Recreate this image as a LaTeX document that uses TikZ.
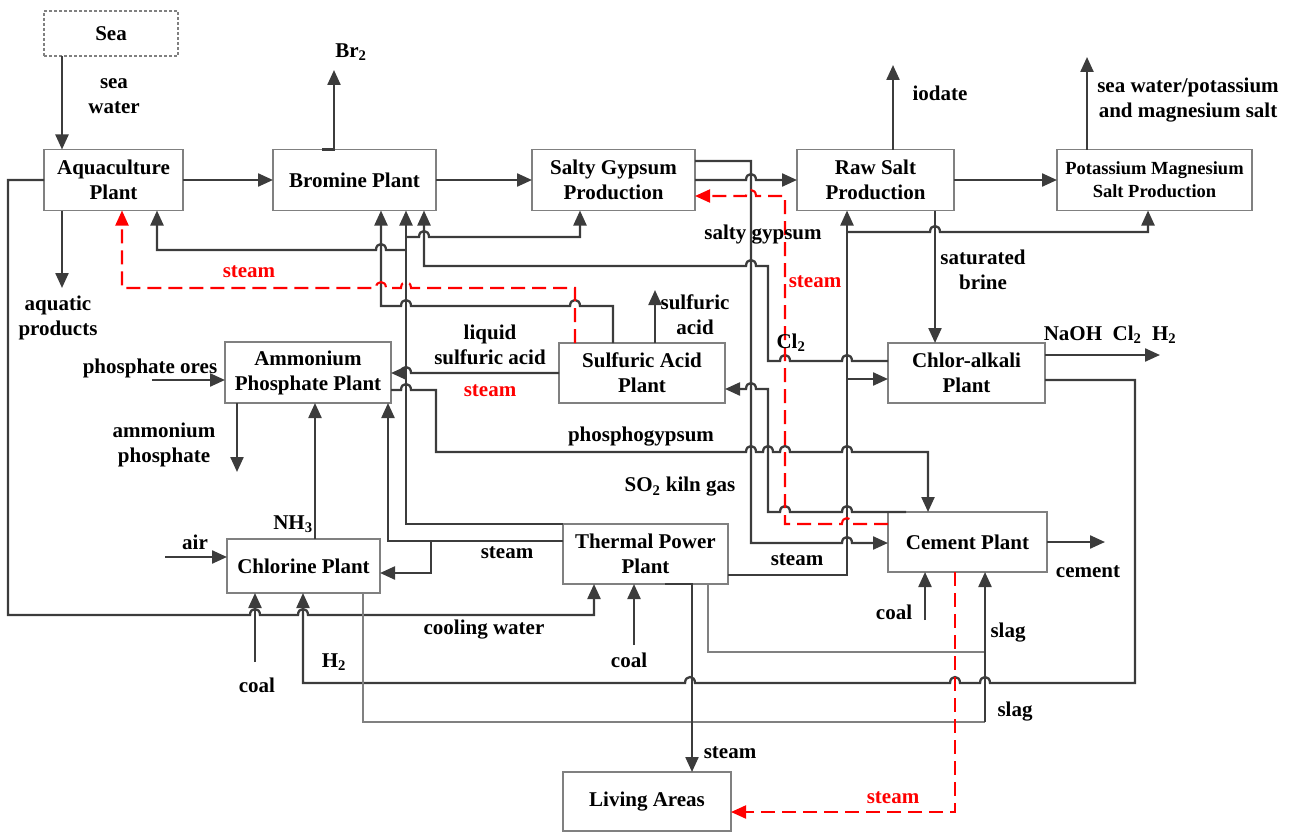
\documentclass[tikz,border=0pt]{standalone}
\usepackage{fontspec}
\setmainfont{Liberation Serif}
\usetikzlibrary{arrows.meta}
\definecolor{lc}{HTML}{3C3C3C}
\definecolor{bc}{HTML}{808080}
\newcommand\hopR[2]{-- ({#1-5},#2) .. controls ({#1-5},{#2-8}) and ({#1+5},{#2-8}) .. ({#1+5},#2)}
\newcommand\hopL[2]{-- ({#1+5},#2) .. controls ({#1+5},{#2-8}) and ({#1-5},{#2-8}) .. ({#1-5},#2)}
\tikzset{
  box/.style={draw=bc, line width=1.2pt, fill=white, align=center, inner sep=0pt, outer sep=0pt,
    font=\bfseries\fontsize{21}{25}\selectfont},
  lbl/.style={align=center, inner sep=0pt, font=\bfseries\fontsize{21}{25}\selectfont},
  rlbl/.style={lbl, text=red},
  ln/.style={draw=lc, line width=2.3pt},
  arr/.style={ln, -{Triangle[length=15pt,width=13pt]}},
  thin/.style={draw=bc, line width=1.3pt},
  rd/.style={draw=red, line width=2.1pt, dash pattern=on 14pt off 7pt, -{Triangle[length=15pt,width=13pt]}},
}
\begin{document}
\begin{tikzpicture}[x=1pt,y=-1pt]
\useasboundingbox (0,0) rectangle (1295,832);
% boxes
\node[box, draw=gray, dash pattern=on 3pt off 2pt, minimum width=134pt, minimum height=45pt] (sea) at (111,33.5) {Sea};
\node[box, minimum width=139pt, minimum height=61pt] (aqua) at (113.5,180) {Aquaculture\\Plant};
\node[box, minimum width=163pt, minimum height=61pt] (brom) at (354.5,180) {Bromine Plant};
\node[box, minimum width=163pt, minimum height=61pt] (salty) at (613.5,180) {Salty Gypsum\\Production};
\node[box, minimum width=157pt, minimum height=61pt] (raw) at (875.5,180) {Raw Salt\\Production};
\node[box, minimum width=195pt, minimum height=61pt, font=\bfseries\fontsize{18.5}{23}\selectfont] (pot) at (1154.5,180) {Potassium Magnesium\\Salt Production};
\node[box, minimum width=166pt, minimum height=61pt] (amm) at (308,372.5) {Ammonium\\Phosphate Plant};
\node[box, minimum width=166pt, minimum height=60pt] (sa) at (642,373) {Sulfuric Acid\\Plant};
\node[box, minimum width=157pt, minimum height=60pt] (ca) at (966.5,373) {Chlor-alkali\\Plant};
\node[box, minimum width=153pt, minimum height=54pt] (chl) at (303.5,566) {Chlorine Plant};
\node[box, minimum width=165pt, minimum height=60pt] (tpp) at (645.5,554) {Thermal Power\\Plant};
\node[box, minimum width=159pt, minimum height=60pt] (cem) at (967.5,542) {Cement Plant};
\node[box, minimum width=168pt, minimum height=59pt] (liv) at (647,801.5) {Living Areas};

% dark connectors
\draw[arr] (sea.south -| 62,0) -- (aqua.north -| 62,0);
\draw[arr] (aqua.east) -- (brom.west);
\draw[arr] (aqua.south -| 62,0) -- (62,288);
\draw[arr] (aqua.west) -- (8,180) -- (8,615) \hopR{255}{615} \hopR{303}{615} -- (594,615) -- (tpp.south -| 594,0);
\draw[arr] (brom.north -| 322,0) -- (334,149.5) -- (334,70);
\draw[arr] (brom.east) -- (salty.west);
\draw[arr] (salty.east) \hopR{751}{180} -- (raw.west);
\draw[arr] (salty.east |- 0,161) -- (751,161) -- (751,543) \hopR{847}{543} -- (cem.west |- 0,543);
\draw[arr] (raw.north -| 893,0) -- (893,65);
\draw[arr] (raw.east) -- (pot.west);
\draw[arr] (pot.north -| 1087,0) -- (1087,57);
\draw[arr] (raw.south -| 935,0) -- (ca.north -| 935,0);
\draw[arr] (ca.east |- 0,355) -- (1160,355);
\draw[arr] (ca.east |- 0,380) -- (1135,380) -- (1135,683) \hopL{985}{683} \hopL{955}{683} \hopL{690}{683} -- (303,683) -- (chl.south -| 303,0);
\draw[arr] (165,557) -- (chl.west |- 0,557);
\draw[arr] (255,662) -- (chl.south -| 255,0);
\draw[arr] (chl.north -| 315,0) -- (amm.south -| 315,0);
\draw[thin] (chl.south -| 363,0) -- (363,722) -- (985,722);
\draw[arr] (tpp.west |- 0,541) -- (388,541) -- (amm.south -| 388,0);
\draw[arr] (431,541) -- (431,573) -- (chl.east |- 0,573);
\draw[arr] (tpp.north west) -- (406,524) -- (brom.south -| 406,0);
\draw[arr] (406,250) \hopL{381}{250} -- (157,250) -- (aqua.south -| 157,0);
\draw[arr] (406,237) \hopR{424}{237} -- (580,237) -- (salty.south -| 580,0);
\draw[arr] (sa.north -| 613,0) -- (613,306) \hopL{575}{306} \hopL{406}{306} -- (381,306) -- (brom.south -| 381,0);
\draw[arr] (ca.west |- 0,361) \hopL{847}{361} \hopL{785}{361} -- (768,361) -- (768,266) \hopL{751}{266} -- (424,266) -- (brom.south -| 424,0);
\draw[arr] (cem.north -| 906,0) \hopL{847}{512} \hopL{785}{512} -- (768,512) -- (768,389) \hopL{751}{389} -- (sa.east |- 0,389);
\draw[arr] (amm.east |- 0,390) \hopR{406}{390} -- (436,390) -- (436,452) \hopR{751}{452} \hopR{768}{452} \hopR{785}{452} \hopR{847}{452} -- (928,452) -- (cem.north -| 928,0);
\draw[arr] (sa.west |- 0,373) \hopL{406}{373} -- (amm.east |- 0,373);
\draw[arr] (sa.north -| 655,0) -- (655,290);
\draw[arr] (tpp.east |- 0,575) -- (847,575) -- (raw.south -| 847,0);
\draw[arr] (847,379) -- (ca.west |- 0,379);
\draw[arr] (847,232) \hopR{935}{232} -- (1148,232) -- (pot.south -| 1148,0);
\draw[arr] (tpp.south -| 665,0) -- (692,584) -- (liv.north -| 692,0);
\draw[thin] (tpp.south -| 708,0) -- (708,652) -- (985,652);
\draw[arr] (985,722) -- (cem.south -| 985,0);
\draw[arr] (634,645) -- (tpp.south -| 634,0);
\draw[arr] (925,620) -- (cem.south -| 925,0);
\draw[arr] (cem.east) -- (1105,542);
\draw[arr] (152,380) -- (amm.west |- 0,380);
\draw[arr] (amm.south -| 237,0) -- (237,472);

% red steam lines
\draw[rd] (sa.north -| 575,0) -- (575,288) \hopL{406}{288} \hopL{381}{288} -- (122,288) -- (aqua.south -| 122,0);
\draw[rd] (cem.west |- 0,524) \hopL{847}{524} -- (785,524) -- (785,196) \hopL{751}{196} -- (salty.east |- 0,196);
\draw[rd] (cem.south -| 955,0) -- (955,812) -- (liv.east |- 0,812);

% labels
\node[lbl] (l1) at (114,96) {sea\\water};
\node[lbl] (l2) at (351,52) {Br\textsubscript{2}};
\node[lbl] (l3) at (940,93) {iodate};
\node[lbl] (l4) at (1188,100) {sea water/potassium\\and magnesium salt};
\node[lbl] (l5) at (58,318) {aquatic\\products};
\node[rlbl] (l6) at (249,272) {steam};
\node[lbl] (l7) at (763,235) {salty gypsum};
\node[rlbl] (l8) at (815,282) {steam};
\node[lbl] (l9) at (983,270) {saturated\\brine};
\node[lbl] (l10) at (695,315) {sulfuric\\acid};
\node[lbl] (l11) at (490,345) {liquid\\sulfuric acid};
\node[rlbl] (l12) at (490,391) {steam};
\node[lbl] (l13) at (791,343) {Cl\textsubscript{2}};
\node[lbl] (l14) at (1110,335) {NaOH\ \ Cl\textsubscript{2}\ \ H\textsubscript{2}};
\node[lbl] (l15) at (150,368) {phosphate ores};
\node[lbl] (l16) at (164,445) {ammonium\\phosphate};
\node[lbl] (l17) at (641,437) {phosphogypsum};
\node[lbl] (l18) at (680,487) {SO\textsubscript{2} kiln gas};
\node[lbl] (l19) at (293,524) {NH\textsubscript{3}};
\node[lbl] (l20) at (195,542) {air};
\node[lbl] (l21) at (507,553) {steam};
\node[lbl] (l22) at (797,560) {steam};
\node[lbl] (l23) at (1088,572) {cement};
\node[lbl] (l24) at (484,630) {cooling water};
\node[lbl] (l25) at (257,685) {coal};
\node[lbl] (l26) at (334,662) {H\textsubscript{2}};
\node[lbl] (l27) at (629,660) {coal};
\node[lbl] (l28) at (894,612) {coal};
\node[lbl] (l29) at (1008,633) {slag};
\node[lbl] (l30) at (1015,712) {slag};
\node[lbl] (l31) at (730,753) {steam};
\node[rlbl] (l32) at (893,798) {steam};
\end{tikzpicture}
\end{document}
